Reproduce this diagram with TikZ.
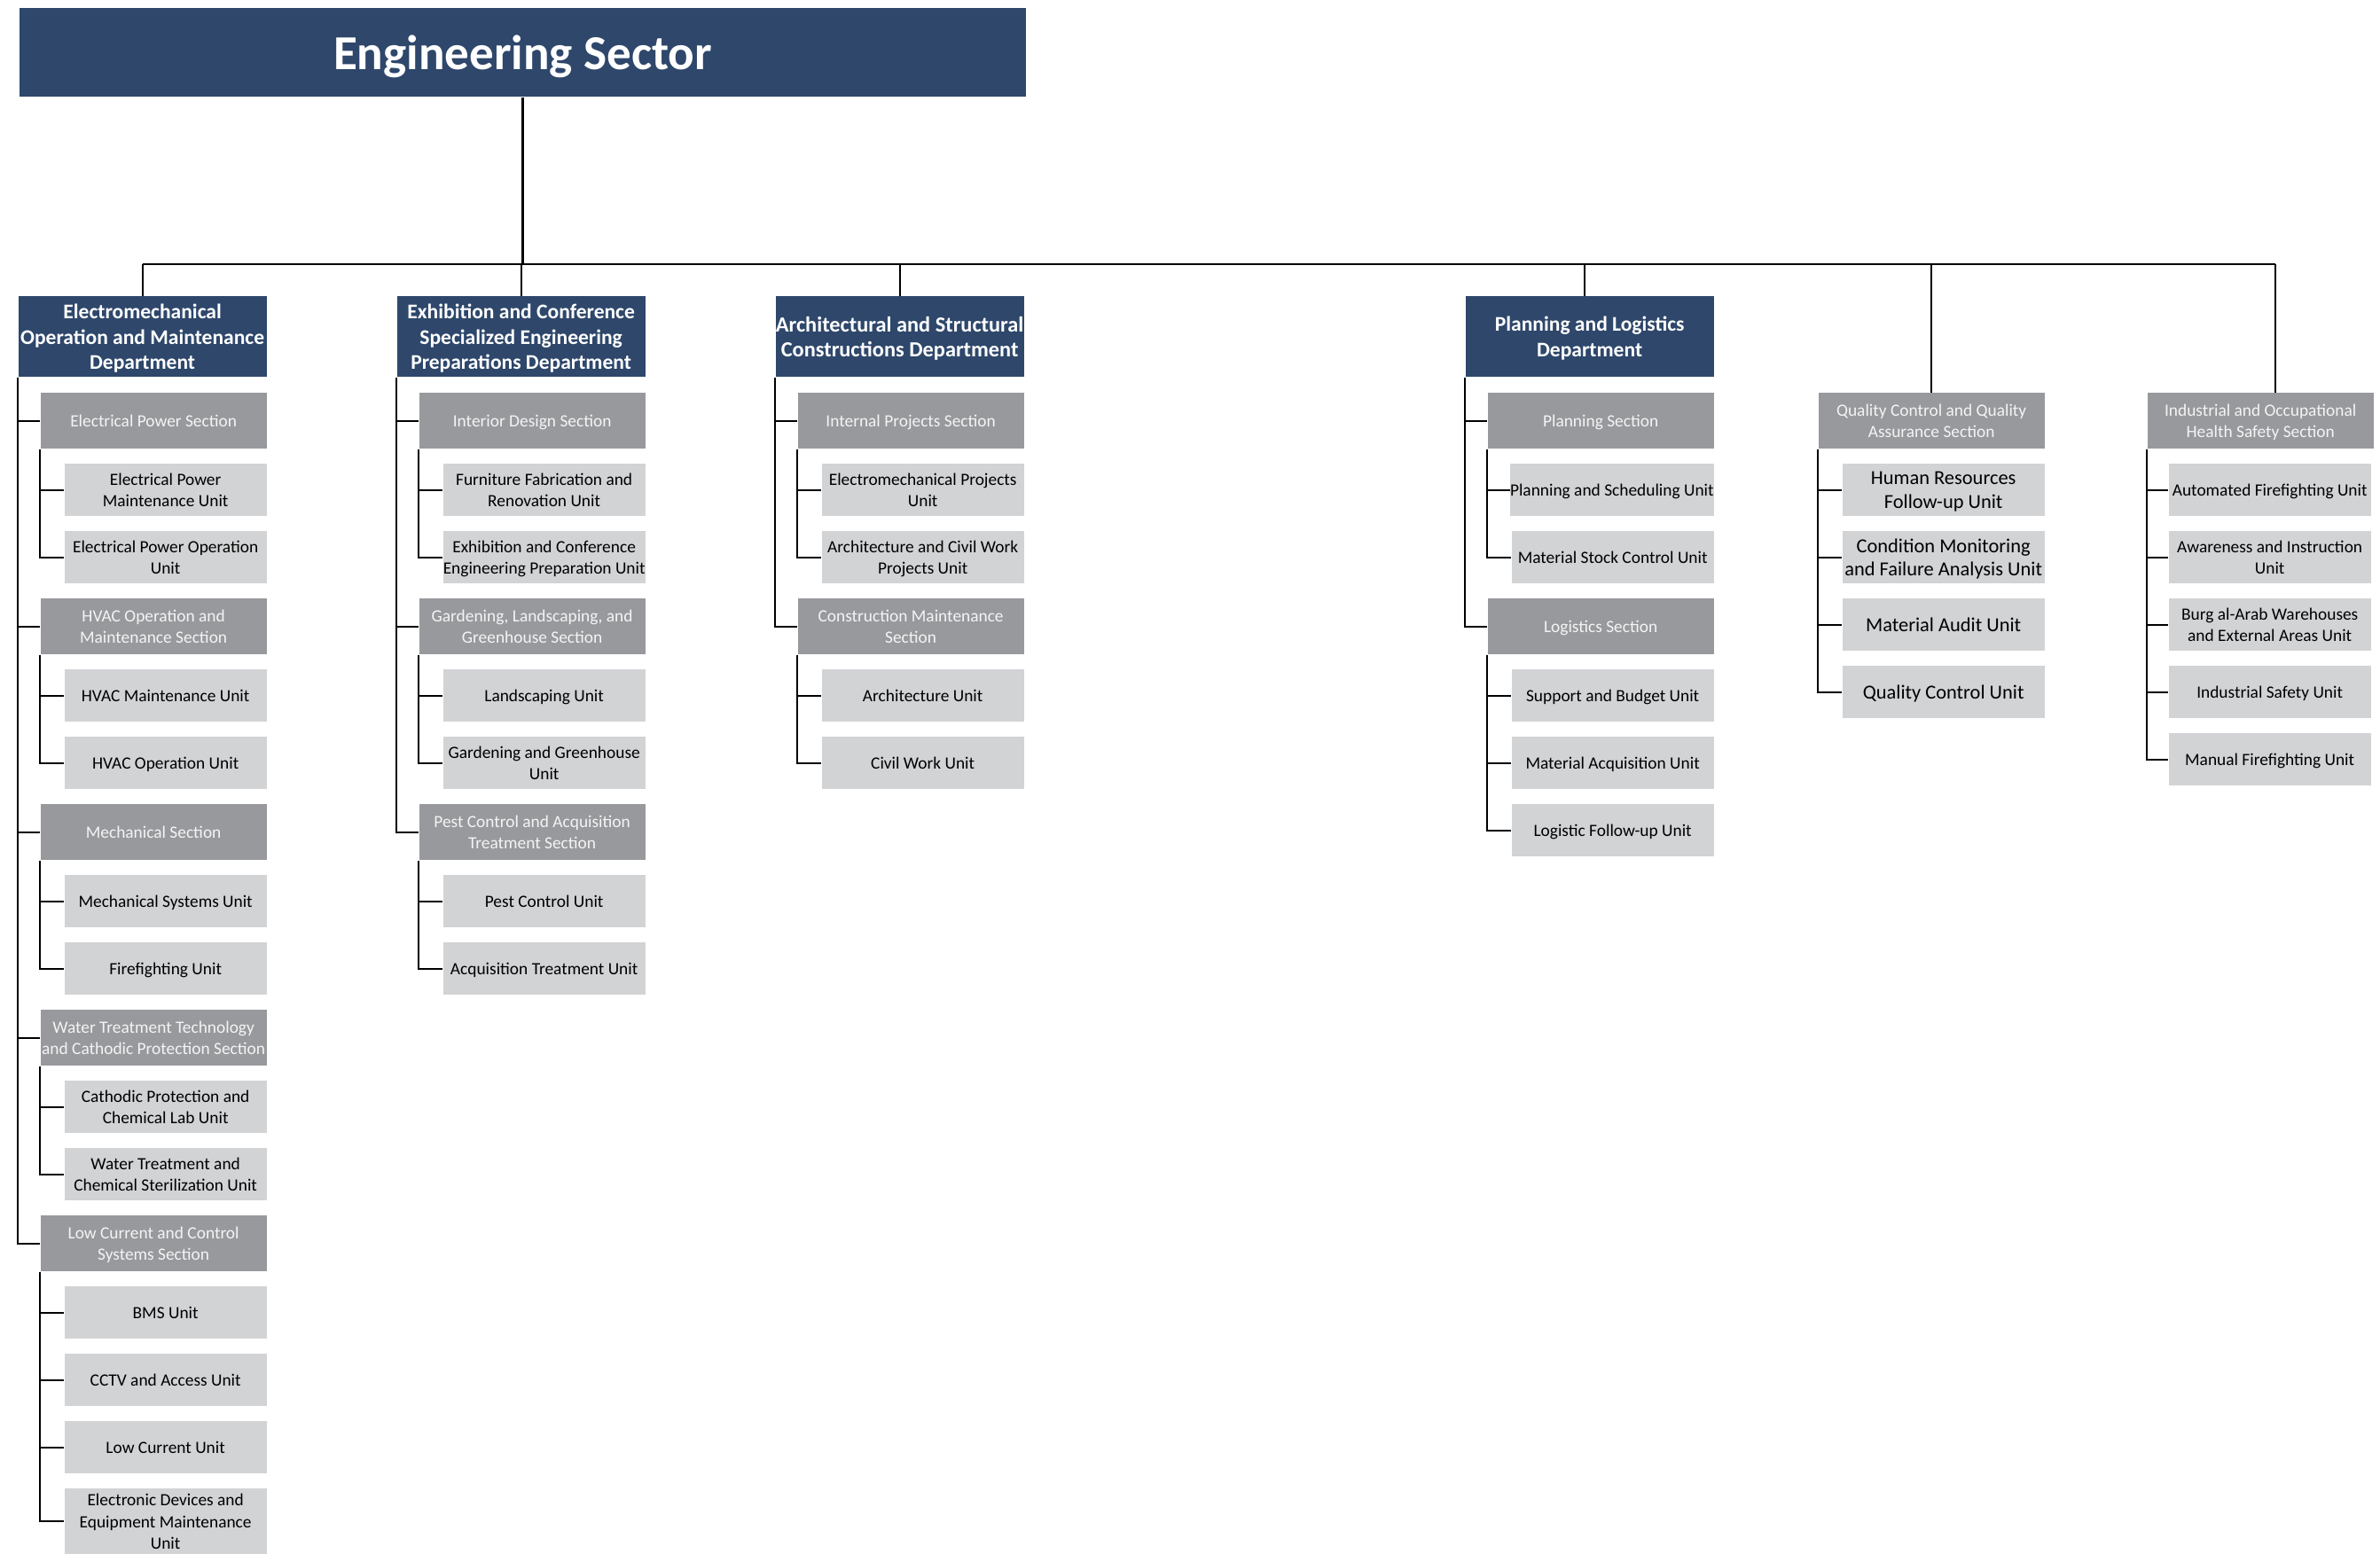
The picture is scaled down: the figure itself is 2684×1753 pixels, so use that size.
\documentclass[tikz,border=0pt]{standalone}
\usepackage{fontspec}
\setmainfont{Carlito}
\definecolor{navy}{HTML}{2E476B}
\definecolor{secgray}{HTML}{98999D}
\definecolor{unitgray}{HTML}{D2D3D5}
\definecolor{sectext}{HTML}{F4F4F4}
\tikzset{
  sectorbox/.style={fill=navy, text=white, inner sep=0pt, anchor=north west, text depth=0pt,
    minimum width=11.34in, minimum height=1.00in, font=\bfseries\fontsize{39.8}{44}\selectfont},
  deptbox/.style={fill=navy, text=white, inner sep=0pt, anchor=north east, align=center, text depth=0pt,
    minimum width=2.80in, minimum height=0.91in, font=\bfseries\fontsize{17}{20.8}\selectfont},
  secbox/.style={fill=secgray, text=sectext, inner sep=0pt, anchor=north east, align=center, text depth=0pt,
    minimum width=2.55in, minimum height=0.63in, font=\fontsize{14}{18}\selectfont},
  unitbox/.style={fill=unitgray, text=black, inner sep=0pt, anchor=north east, align=center, text depth=0pt,
    minimum width=2.28in, minimum height=0.59in, font=\fontsize{14}{18}\selectfont},
  bigunit/.style={font=\fontsize{16.2}{19}\selectfont},
  wire/.style={draw=black, line width=1.6pt}
}
\begin{document}
\begin{tikzpicture}[x=0.01in,y=0.01in]
\useasboundingbox (0,0) rectangle (2684,-1753);
\node[sectorbox] (sector) at (22,-9) {Engineering Sector};
\coordinate (bus) at (0,-298);

\node[deptbox] (emd) at (301,-334) {Electromechanical\\Operation and Maintenance\\Department};
\node[secbox] (emS1) at (301,-443) {Electrical Power Section};
\node[unitbox] (emS1a) at (301,-523) {Electrical Power\\Maintenance Unit};
\node[unitbox] (emS1b) at (301,-599) {Electrical Power Operation\\Unit};
\node[secbox] (emS2) at (301,-675) {HVAC Operation and\\Maintenance Section};
\node[unitbox] (emS2a) at (301,-755) {HVAC Maintenance Unit};
\node[unitbox] (emS2b) at (301,-831) {HVAC Operation Unit};
\node[secbox] (emS3) at (301,-907) {Mechanical Section};
\node[unitbox] (emS3a) at (301,-987) {Mechanical Systems Unit};
\node[unitbox] (emS3b) at (301,-1063) {Firefighting Unit};
\node[secbox] (emS4) at (301,-1139) {Water Treatment Technology\\and Cathodic Protection Section};
\node[unitbox] (emS4a) at (301,-1219) {Cathodic Protection and\\Chemical Lab Unit};
\node[unitbox] (emS4b) at (301,-1295) {Water Treatment and\\Chemical Sterilization Unit};
\node[secbox] (emS5) at (301,-1371) {Low Current and Control\\Systems Section};
\node[unitbox] (emS5a) at (301,-1451) {BMS Unit};
\node[unitbox] (emS5b) at (301,-1527) {CCTV and Access Unit};
\node[unitbox] (emS5c) at (301,-1603) {Low Current Unit};
\node[unitbox, minimum height=0.74in] (emS5d) at (301,-1679) {Electronic Devices and\\Equipment Maintenance\\Unit};

\node[deptbox] (ecd) at (728,-334) {Exhibition and Conference\\Specialized Engineering\\Preparations Department};
\node[secbox] (ecS1) at (728,-443) {Interior Design Section};
\node[unitbox] (ecS1a) at (728,-523) {Furniture Fabrication and\\Renovation Unit};
\node[unitbox] (ecS1b) at (728,-599) {Exhibition and Conference\\Engineering Preparation Unit};
\node[secbox] (ecS2) at (728,-675) {Gardening, Landscaping, and\\Greenhouse Section};
\node[unitbox] (ecS2a) at (728,-755) {Landscaping Unit};
\node[unitbox] (ecS2b) at (728,-831) {Gardening and Greenhouse\\Unit};
\node[secbox] (ecS3) at (728,-907) {Pest Control and Acquisition\\Treatment Section};
\node[unitbox] (ecS3a) at (728,-987) {Pest Control Unit};
\node[unitbox] (ecS3b) at (728,-1063) {Acquisition Treatment Unit};

\node[deptbox, font=\bfseries\fontsize{17.6}{20.7}\selectfont] (asd) at (1155,-334) {Architectural and Structural\\Constructions Department};
\node[secbox] (asS1) at (1155,-443) {Internal Projects Section};
\node[unitbox] (asS1a) at (1155,-523) {Electromechanical Projects\\Unit};
\node[unitbox] (asS1b) at (1155,-599) {Architecture and Civil Work\\Projects Unit};
\node[secbox] (asS2) at (1155,-675) {Construction Maintenance\\Section};
\node[unitbox] (asS2a) at (1155,-755) {Architecture Unit};
\node[unitbox] (asS2b) at (1155,-831) {Civil Work Unit};

\node[deptbox] (pld) at (1933,-334) {Planning and Logistics\\Department};
\node[secbox] (plS1) at (1933,-443) {Planning Section};
\node[unitbox] (plS1a) at (1933,-523) {Planning and Scheduling Unit};
\node[unitbox] (plS1b) at (1933,-599) {Material Stock Control Unit};
\node[secbox] (plS2) at (1933,-675) {Logistics Section};
\node[unitbox] (plS2a) at (1933,-755) {Support and Budget Unit};
\node[unitbox] (plS2b) at (1933,-831) {Material Acquisition Unit};
\node[unitbox] (plS2c) at (1933,-907) {Logistic Follow-up Unit};
\coordinate (pldrop) at ([xshift=-0.06in]pld.north);

\node[secbox] (qcs) at (2306,-443) {Quality Control and Quality\\Assurance Section};
\node[unitbox, bigunit] (qcsa) at (2306,-523) {Human Resources\\Follow-up Unit};
\node[unitbox, bigunit] (qcsb) at (2306,-599) {Condition Monitoring\\and Failure Analysis Unit};
\node[unitbox, bigunit] (qcsc) at (2306,-675) {Material Audit Unit};
\node[unitbox, bigunit] (qcsd) at (2306,-751) {Quality Control Unit};

\node[secbox] (hss) at (2677,-443) {Industrial and Occupational\\Health Safety Section};
\node[unitbox] (hssa) at (2674,-523) {Automated Firefighting Unit};
\node[unitbox] (hssb) at (2674,-599) {Awareness and Instruction\\Unit};
\node[unitbox] (hssc) at (2674,-675) {Burg al-Arab Warehouses\\and External Areas Unit};
\node[unitbox] (hssd) at (2674,-751) {Industrial Safety Unit};
\node[unitbox] (hsse) at (2674,-827) {Manual Firefighting Unit};
\coordinate (hsdrop) at ([xshift=0.17in]hss.north);

\draw[wire] (sector.south) -- (sector.south |- bus);
\draw[wire] (emd.north |- bus) -- (hsdrop |- bus);
\draw[wire] (emd.north) -- (emd.north |- bus);
\draw[wire] (ecd.north) -- (ecd.north |- bus);
\draw[wire] (asd.north) -- (asd.north |- bus);
\draw[wire] (pldrop) -- (pldrop |- bus);
\draw[wire] (qcs.north) -- (qcs.north |- bus);
\draw[wire] (hsdrop) -- (hsdrop |- bus);

\draw[wire] (emd.south west) |- (emS1.west);
\draw[wire] (emd.south west) |- (emS2.west);
\draw[wire] (emd.south west) |- (emS3.west);
\draw[wire] (emd.south west) |- (emS4.west);
\draw[wire] (emd.south west) |- (emS5.west);
\draw[wire] (emS1.south west) |- (emS1a.west);
\draw[wire] (emS1.south west) |- (emS1b.west);
\draw[wire] (emS2.south west) |- (emS2a.west);
\draw[wire] (emS2.south west) |- (emS2b.west);
\draw[wire] (emS3.south west) |- (emS3a.west);
\draw[wire] (emS3.south west) |- (emS3b.west);
\draw[wire] (emS4.south west) |- (emS4a.west);
\draw[wire] (emS4.south west) |- (emS4b.west);
\draw[wire] (emS5.south west) |- (emS5a.west);
\draw[wire] (emS5.south west) |- (emS5b.west);
\draw[wire] (emS5.south west) |- (emS5c.west);
\draw[wire] (emS5.south west) |- (emS5d.west);

\draw[wire] (ecd.south west) |- (ecS1.west);
\draw[wire] (ecd.south west) |- (ecS2.west);
\draw[wire] (ecd.south west) |- (ecS3.west);
\draw[wire] (ecS1.south west) |- (ecS1a.west);
\draw[wire] (ecS1.south west) |- (ecS1b.west);
\draw[wire] (ecS2.south west) |- (ecS2a.west);
\draw[wire] (ecS2.south west) |- (ecS2b.west);
\draw[wire] (ecS3.south west) |- (ecS3a.west);
\draw[wire] (ecS3.south west) |- (ecS3b.west);

\draw[wire] (asd.south west) |- (asS1.west);
\draw[wire] (asd.south west) |- (asS2.west);
\draw[wire] (asS1.south west) |- (asS1a.west);
\draw[wire] (asS1.south west) |- (asS1b.west);
\draw[wire] (asS2.south west) |- (asS2a.west);
\draw[wire] (asS2.south west) |- (asS2b.west);

\draw[wire] (pld.south west) |- (plS1.west);
\draw[wire] (pld.south west) |- (plS2.west);
\draw[wire] (plS1.south west) |- (plS1a.west);
\draw[wire] (plS1.south west) |- (plS1b.west);
\draw[wire] (plS2.south west) |- (plS2a.west);
\draw[wire] (plS2.south west) |- (plS2b.west);
\draw[wire] (plS2.south west) |- (plS2c.west);

\draw[wire] (qcs.south west) |- (qcsa.west);
\draw[wire] (qcs.south west) |- (qcsb.west);
\draw[wire] (qcs.south west) |- (qcsc.west);
\draw[wire] (qcs.south west) |- (qcsd.west);

\draw[wire] (hss.south west) |- (hssa.west);
\draw[wire] (hss.south west) |- (hssb.west);
\draw[wire] (hss.south west) |- (hssc.west);
\draw[wire] (hss.south west) |- (hssd.west);
\draw[wire] (hss.south west) |- (hsse.west);
\end{tikzpicture}
\end{document}
